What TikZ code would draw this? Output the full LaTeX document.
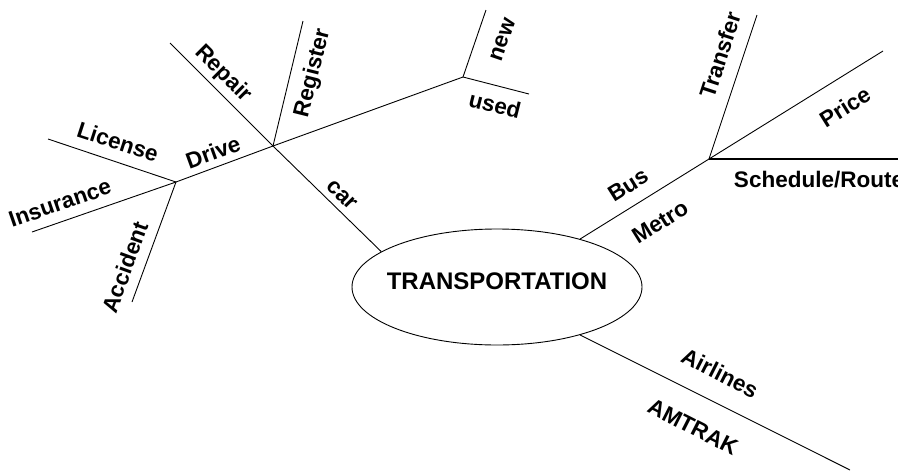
\documentclass[tikz,border=0pt]{standalone}
\usepackage{fontspec}
\setmainfont{Liberation Sans}
\usetikzlibrary{shapes.geometric}
\tikzset{
  branch/.style = {line width=0.9pt},
  lbl/.style    = {font=\fontsize{22.5}{26}\selectfont\bfseries,inner sep=0pt},
  hub/.style    = {ellipse,draw,line width=0.9pt,inner sep=0pt,minimum width=290pt,minimum height=116pt,
                   text depth=12pt,font=\fontsize{24}{28}\selectfont\bfseries}
}

\begin{document}
\begin{tikzpicture}[x=1pt,y=-1pt]
  \useasboundingbox (0,0) rectangle (898,472);
  \node[hub] (trans) at (497,287) {\makebox[0pt]{TRANSPORTATION}};
  % junctions
  \coordinate (car)   at (273,146);
  \coordinate (drive) at (176,182);
  \coordinate (buy)   at (463,77);
  \coordinate (bus)   at (709,159);
  % free ends
  \coordinate (repairEnd)   at (170,43);
  \coordinate (registerEnd) at (303,21);
  \coordinate (newEnd)      at (486,10);
  \coordinate (usedEnd)     at (529,94);
  \coordinate (licenseEnd)  at (48,139);
  \coordinate (insureEnd)   at (32,232);
  \coordinate (accidentEnd) at (132,302);
  \coordinate (transferEnd) at (757,15);
  \coordinate (priceEnd)    at (883,51);
  \coordinate (routeEnd)    at (898,159);
  \coordinate (trainEnd)    at (850,470);
  % branches
  \draw[branch] (trans.163) -- (car) -- (repairEnd);
  \draw[branch] (car) -- (registerEnd);
  \draw[branch] (drive) -- (car) -- (buy);
  \draw[branch] (buy) -- (newEnd);
  \draw[branch] (buy) -- (usedEnd);
  \draw[branch] (drive) -- (licenseEnd);
  \draw[branch] (drive) -- (insureEnd);
  \draw[branch] (drive) -- (accidentEnd);
  \draw[branch] (trans.30) -- (bus);
  \draw[branch] (bus) -- (transferEnd);
  \draw[branch] (bus) -- (priceEnd);
  \draw[branch,line width=1.6pt] (bus) -- (routeEnd);
  \draw[branch] (trans.-30) -- (trainEnd);
  % labels
  \node[lbl,rotate=-45] (lRepair)   at (223,74)  {Repair};
  \node[lbl,rotate=76]  (lRegister) at (313,73)  {Register};
  \node[lbl,rotate=-18] (lLicense)  at (118,142) {License};
  \node[lbl,rotate=20]  (lDrive)    at (213,152) {Drive};
  \node[lbl,rotate=-45] (lCar)      at (342,195) {car};
  \node[lbl,rotate=19]  (lInsure)   at (60,203)  {Insurance};
  \node[lbl,rotate=70]  (lAccident) at (125,267) {Accident};
  \node[lbl,rotate=71]  (lNew)      at (503,40)  {new};
  \node[lbl,rotate=-14] (lUsed)     at (495,105) {used};
  \node[lbl,rotate=72]  (lTransfer) at (720,55)  {Transfer};
  \node[lbl,rotate=32]  (lPrice)    at (845,107) {Price};
  \node[lbl]            (lRoute)    at (819,180) {Schedule/Route};
  \node[lbl,rotate=32]  (lBus)      at (628,185) {Bus};
  \node[lbl,rotate=32]  (lMetro)    at (660,222) {Metro};
  \node[lbl,rotate=-27] (lAir)      at (720,373) {Airlines};
  \node[lbl,rotate=-27] (lAmtrak)   at (693,427) {AMTRAK};
\end{tikzpicture}
\end{document}
